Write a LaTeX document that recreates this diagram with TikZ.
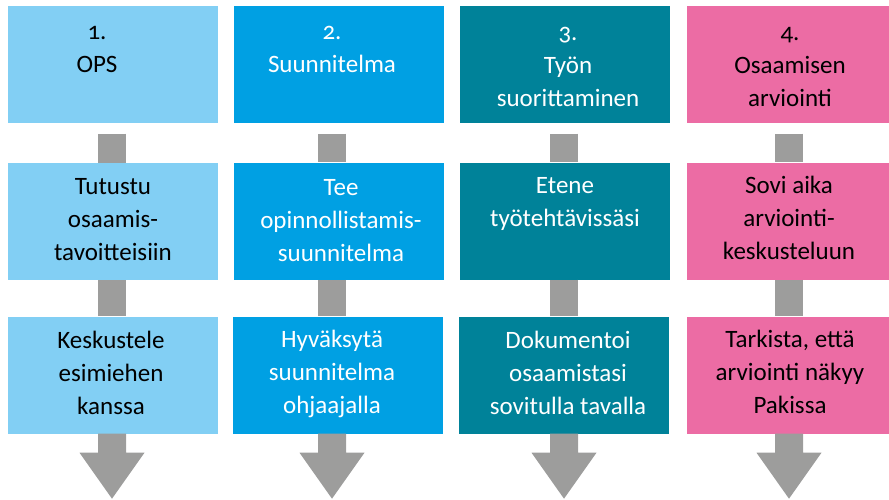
\documentclass[tikz,border=0pt]{standalone}
\usepackage{fontspec}
\setmainfont{Carlito}[Numbers=OldStyle]
\usetikzlibrary{calc}
\definecolor{cA}{HTML}{82CFF4}
\definecolor{cB}{HTML}{00A0E3}
\definecolor{cC}{HTML}{008299}
\definecolor{cD}{HTML}{EC6CA4}
\definecolor{grayc}{HTML}{9D9D9C}
\newcommand\firststrut{\rule{0pt}{25pt}}
\begin{document}
\begin{tikzpicture}[x=1pt,y=-1pt,
  box/.style={rectangle, draw=none, inner sep=0pt, minimum width=210pt, minimum height=117pt},
  txt/.style={anchor=north, inner sep=0pt, align=center, font=\fontsize{25}{33}\selectfont},
  conn/.style={draw=grayc, line width=28pt, line cap=butt},
  head/.style={fill=grayc, draw=none}]
\useasboundingbox (0,0) rectangle (889,499);
\clip (0,0) rectangle (889,499);

% column axes
\coordinate (ax1) at (112,0);
\coordinate (ax2) at (332,0);
\coordinate (ax3) at (564,0);
\coordinate (ax4) at (789,0);

% boxes
\node[box, fill=cA] (b1a) at (113,64.5) {};
\node[box, fill=cA] (b1b) at (113,221.5) {};
\node[box, fill=cA] (b1c) at (113,375) {};
\node[box, fill=cB] (b2a) at (339,64.5) {};
\node[box, fill=cB] (b2b) at (339,221) {};
\node[box, fill=cB] (b2c) at (338,375) {};
\node[box, fill=cC] (b3a) at (565,64.5) {};
\node[box, fill=cC] (b3b) at (565,221) {};
\node[box, fill=cC] (b3c) at (564,375) {};
\node[box, fill=cD] (b4a) at (792,64.5) {};
\node[box, fill=cD] (b4b) at (792,221) {};
\node[box, fill=cD] (b4c) at (792,375) {};

% connectors and arrows
\foreach \c in {1,2,3,4}{
  \draw[conn] ($(ax\c |- b\c a.south)+(0,10.5)$) -- (ax\c |- b\c b.north);
  \draw[conn] (ax\c |- b\c b.south) -- (ax\c |- b\c c.north);
  \fill[grayc] ($(ax\c |- b\c c.south)+(-14,0)$) -- ++(0,19) -- ++(-18.5,0)
     -- ($(ax\c |- b\c c.south)+(0,65)$) -- ++(32.5,-46) -- ++(-18.5,0) -- ++(0,-19) -- cycle;
}

% texts
\node[txt, text=black] (t1a) at (97,14.5) {\firststrut 1.\\OPS};
\node[txt, text=black] (t1b) at (113,169) {\firststrut Tutustu\\osaamis-\\tavoitteisiin};
\node[txt, text=black] (t1c) at (111,323) {\firststrut Keskustele\\esimiehen\\kanssa};
\node[txt, text=white] (t2a) at (332,14.5) {\firststrut 2.\\Suunnitelma};
\node[txt, text=white] (t2b) at (341,170) {\firststrut Tee\\opinnollistamis-\\suunnitelma};
\node[txt, text=white] (t2c) at (332,322) {\firststrut Hyväksytä\\suunnitelma\\ohjaajalla};
\node[txt, text=white] (t3a) at (568,15) {\firststrut 3.\\Työn\\suorittaminen};
\node[txt, text=white] (t3b) at (565,168) {\firststrut Etene\\työtehtävissäsi};
\node[txt, text=white] (t3c) at (568,323) {\firststrut Dokumentoi\\osaamistasi\\sovitulla tavalla};
\node[txt, text=black] (t4a) at (790,15) {\firststrut 4.\\Osaamisen\\arviointi};
\node[txt, text=black] (t4b) at (789,168) {\firststrut Sovi aika\\arviointi-\\keskusteluun};
\node[txt, text=black] (t4c) at (790,322) {\firststrut Tarkista, että\\arviointi näkyy\\Pakissa};
\end{tikzpicture}
\end{document}
